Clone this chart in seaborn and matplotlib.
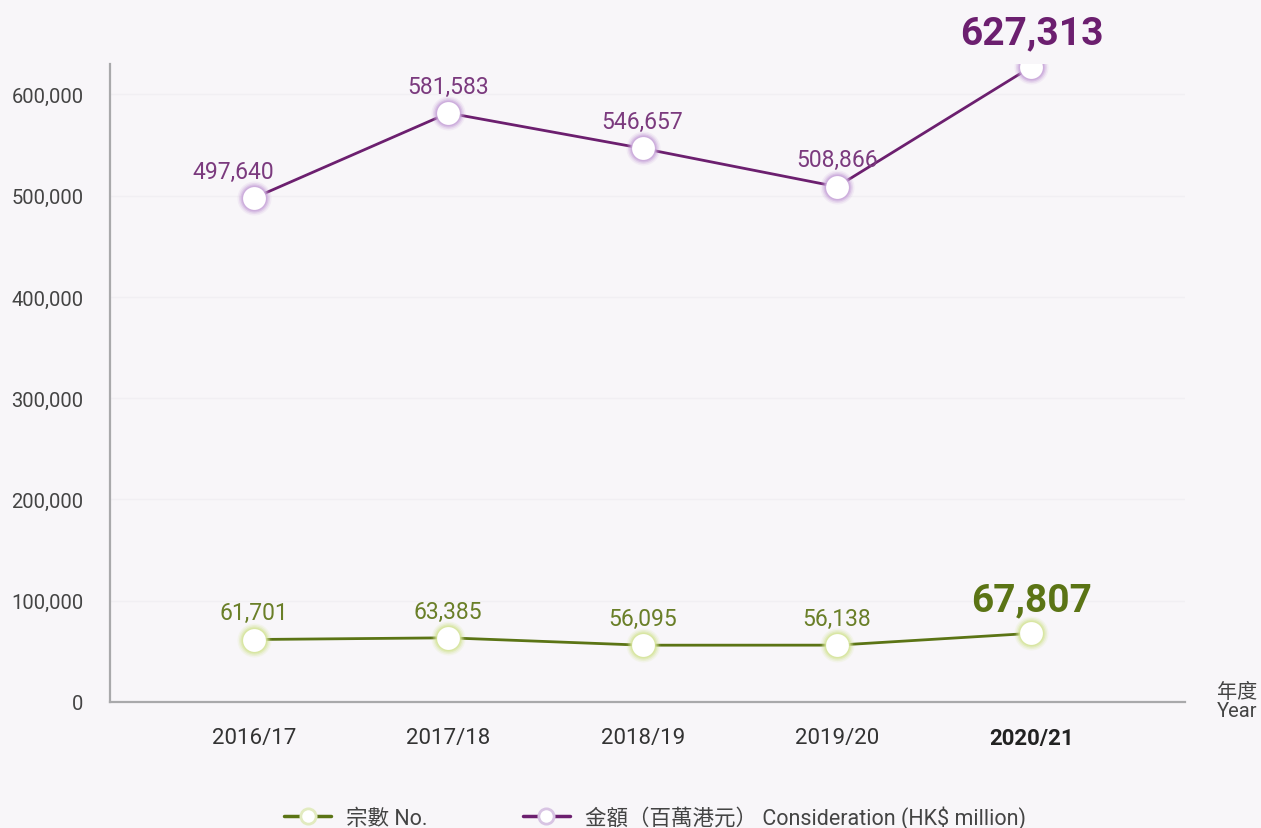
import matplotlib
matplotlib.use("Agg")
import matplotlib.pyplot as plt
import seaborn as sns
import pandas as pd
from matplotlib.lines import Line2D

years = ["2016/17", "2017/18", "2018/19", "2019/20", "2020/21"]
cases = [61701, 63385, 56095, 56138, 67807]
consideration = [497640, 581583, 546657, 508866, 627313]
yticks = [0, 100000, 200000, 300000, 400000, 500000, 600000]
series_names = ["宗數 No.", "金額（百萬港元） Consideration (HK$ million)"]

purple = "#6c1f6f"
green = "#5b7415"
bg = "#f8f6f9"

sns.set_theme(style="white")
plt.rcParams["font.family"] = ["Roboto", "Noto Sans CJK TC", "DejaVu Sans"]

df = pd.DataFrame({
    "x": list(range(len(years))) * 2,
    "year": years * 2,
    "value": cases + consideration,
    "series": [series_names[0]] * len(years) + [series_names[1]] * len(years),
})

fig = plt.figure(figsize=(12.61, 8.29), dpi=100, facecolor=bg)
ax = fig.add_axes([110 / 1261, 1 - 703 / 829, (1185 - 110) / 1261, (703 - 65) / 829])
ax.set_facecolor(bg)

palette = {series_names[0]: green, series_names[1]: purple}
sns.lineplot(data=df, x="x", y="value", hue="series", palette=palette,
             linewidth=2, ax=ax, legend=False, zorder=2)

for vals, col in [(cases, green), (consideration, purple)]:
    xs = list(range(len(vals)))
    glow = "#d6e59a" if col == green else "#c9a6da"
    for s, a in [(600, 0.15), (500, 0.25), (410, 0.45), (340, 0.7)]:
        ax.scatter(xs, vals, s=s, color=glow, alpha=a, zorder=3, linewidths=0)
    ax.scatter(xs, vals, s=270, color="white", zorder=4, linewidths=0)
    for i, v in enumerate(vals):
        last = i == len(vals) - 1
        dx = -15 if (col == purple and i == 0) else 0
        ax.annotate(f"{v:,}", (i, v), xytext=(dx, 11),
                    textcoords="offset points", ha="center", va="bottom",
                    color=col if last else ("#7b3a7e" if col == purple else "#6a7f28"),
                    fontsize=28 if last else 16.5,
                    fontweight="bold" if last else "normal")

ax.set_xlim(-0.74, 4.79)
ax.set_ylim(0, 630000)
ax.set_yticks(yticks)
ax.set_yticklabels([f"{t:,}" for t in yticks], fontsize=14.5, color="#444444")
ax.set_xticks(range(len(years)))
ax.set_xticklabels(years, fontsize=16, color="#333333")
ax.get_xticklabels()[-1].set_fontweight("bold")
ax.get_xticklabels()[-1].set_color("#222222")
ax.tick_params(axis="x", length=0, pad=18)
ax.tick_params(axis="y", length=0, pad=19)
ax.set_xlabel("")
ax.set_ylabel("")
ax.grid(axis="y", color="#f1eff3", linewidth=1)
ax.set_axisbelow(True)
for s in ["top", "right"]:
    ax.spines[s].set_visible(False)
for s in ["left", "bottom"]:
    ax.spines[s].set_color("#a9a9ab")
    ax.spines[s].set_linewidth(1.6)

fig.text(1217 / 1261, 1 - 702 / 829, "年度\nYear", ha="left", va="center",
         fontsize=14.5, color="#444444", linespacing=1.0)

handles = [
    Line2D([0], [0], color=green, linewidth=2.5, marker="o", markersize=11,
           markerfacecolor="white", markeredgecolor="#e2ebc0", markeredgewidth=2),
    Line2D([0], [0], color=purple, linewidth=2.5, marker="o", markersize=11,
           markerfacecolor="white", markeredgecolor="#d8c4e3", markeredgewidth=2),
]
leg = fig.legend(handles, series_names, loc="center", bbox_to_anchor=(655 / 1261, 1 - 818 / 829),
                 ncol=2, frameon=False, fontsize=15.5, handlelength=2.2, columnspacing=4.4,
                 handletextpad=0.7)
for t in leg.get_texts():
    t.set_color("#444444")

fig.savefig("out.png", dpi=100, facecolor=bg)
